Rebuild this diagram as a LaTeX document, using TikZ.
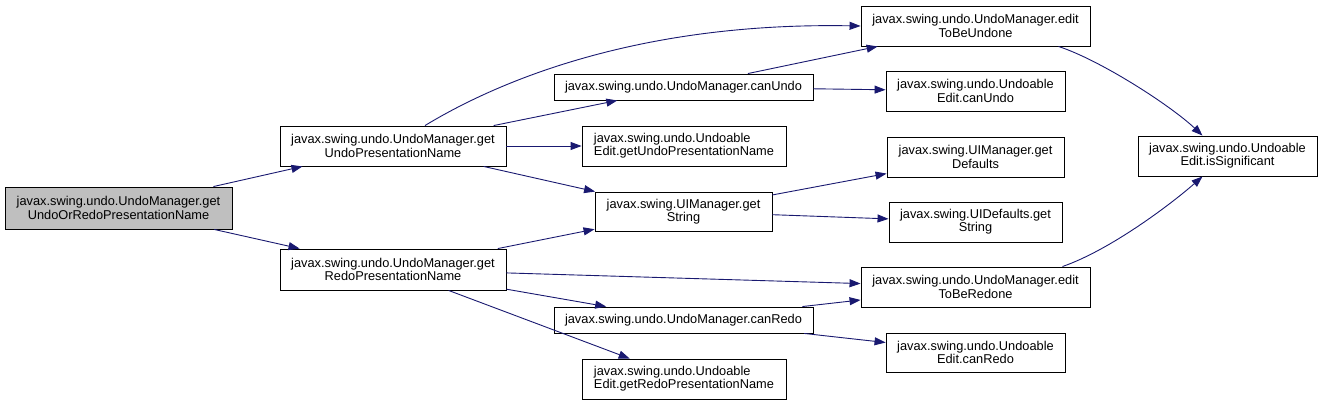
\documentclass[tikz,border=0pt]{standalone}
\usepackage{fontspec}
\setmainfont{Liberation Sans}
\usetikzlibrary{arrows.meta}
\definecolor{edgecol}{HTML}{191970}
\definecolor{rootfill}{HTML}{BFBFBF}
\begin{document}
\begin{tikzpicture}[x=1pt,y=-1pt,
  box/.style={draw=black, fill=white, line width=0.9pt, inner sep=0pt, align=center,
    font=\fontsize{12.8}{13.3}\selectfont},
  lbox/.style={box, align=left},
  edge/.style={draw=edgecol, line width=0.9pt, -{Triangle[length=11pt,width=8pt]}}]
\useasboundingbox (0,0) rectangle (1323,405);
\node[box, fill=rootfill, minimum width=227pt, minimum height=42pt] (root) at (118.5,208) {javax.swing.undo.UndoManager.get\\UndoOrRedoPresentationName};
\node[box, minimum width=226pt, minimum height=40pt] (gu) at (393,146) {javax.swing.undo.UndoManager.get\\UndoPresentationName};
\node[box, minimum width=226pt, minimum height=41pt] (gr) at (393,269.5) {javax.swing.undo.UndoManager.get\\RedoPresentationName};
\node[box, minimum width=229pt, minimum height=40pt] (etu) at (975.5,26) {javax.swing.undo.UndoManager.edit\\ToBeUndone};
\node[box, minimum width=259pt, minimum height=26pt] (cu) at (683.5,87) {javax.swing.undo.UndoManager.canUndo};
\node[box, minimum width=179pt, minimum height=40pt] (ecu) at (975.5,91) {javax.swing.undo.Undoable\\Edit.canUndo};
\node[lbox, minimum width=204pt, minimum height=40pt] (egu) at (684,146) {javax.swing.undo.Undoable\\Edit.getUndoPresentationName};
\node[box, minimum width=177pt, minimum height=40pt] (gd) at (975.5,157) {javax.swing.UIManager.get\\Defaults};
\node[box, minimum width=177pt, minimum height=39pt] (gs) at (683.5,211.5) {javax.swing.UIManager.get\\String};
\node[box, minimum width=173pt, minimum height=40pt] (uds) at (975.5,222) {javax.swing.UIDefaults.get\\String};
\node[box, minimum width=229pt, minimum height=40pt] (etr) at (975.5,287) {javax.swing.undo.UndoManager.edit\\ToBeRedone};
\node[box, minimum width=259pt, minimum height=26pt] (cr) at (683.5,320) {javax.swing.undo.UndoManager.canRedo};
\node[box, minimum width=179pt, minimum height=39pt] (ecr) at (975.5,352.5) {javax.swing.undo.Undoable\\Edit.canRedo};
\node[lbox, minimum width=204pt, minimum height=40pt] (egr) at (684,379) {javax.swing.undo.Undoable\\Edit.getRedoPresentationName};
\node[box, minimum width=179pt, minimum height=40pt] (sig) at (1227.5,156) {javax.swing.undo.Undoable\\Edit.isSignificant};

\draw[edge] (root) -- (gu);
\draw[edge] (root) -- (gr);
\draw[edge] ([xshift=32pt]gu.north) .. controls (500,80) and (640,22) .. (etu.west);
\draw[edge] (gu) -- (cu);
\draw[edge] (gu) -- (egu);
\draw[edge] (gu) -- (gs);
\draw[edge] (cu) -- (etu);
\draw[edge] (cu) -- (ecu);
\draw[edge] (gs) -- (gd);
\draw[edge] (gs) -- (uds);
\draw[edge] (gr) -- (gs);
\draw[edge] (gr) -- (etr);
\draw[edge] (gr) -- (cr);
\draw[edge] (gr) -- (egr);
\draw[edge] (cr) -- (etr);
\draw[edge] (cr) -- (ecr);
\draw[edge] ([xshift=-32pt]etu.south east) .. controls (1100,60) and (1170,105) .. ([xshift=-25pt]sig.north);
\draw[edge] ([xshift=-28pt]etr.north east) .. controls (1110,250) and (1170,205) .. ([xshift=-25pt]sig.south);
\end{tikzpicture}
\end{document}
